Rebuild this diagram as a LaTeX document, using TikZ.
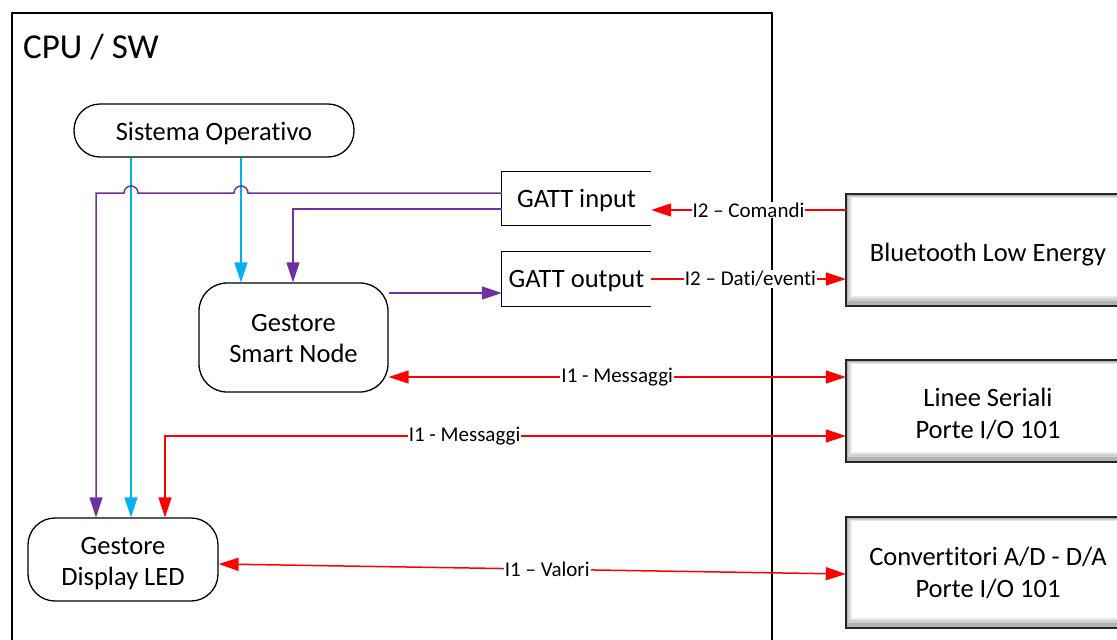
\documentclass[tikz,border=0pt]{standalone}
\usepackage{fontspec}
\setmainfont{Carlito}[Ligatures={NoCommon,NoContextual},Contextuals=NoAlternate]
\usetikzlibrary{arrows.meta,backgrounds,calc}
\definecolor{vpurple}{HTML}{7030A0}
\definecolor{vcyan}{HTML}{00B0F0}
\definecolor{vred}{HTML}{FF0000}
\begin{document}
\begin{tikzpicture}[x=1pt,y=-1pt,
  every node/.style={font=\fontsize{26.5}{31.5}\selectfont, align=center, inner sep=0pt},
  rbox/.style={draw, line width=1.3pt, rounded corners=#1},
  openbox/.style={line width=1.3pt},
  tip/.style={-{Triangle[length=20pt,width=13pt]}},
  tips/.style={{Triangle[length=20pt,width=13pt]}-{Triangle[length=20pt,width=13pt]}},
  purp/.style={vpurple, line width=1.5pt, tip},
  cyn/.style={vcyan, line width=1.5pt, tip},
  redl/.style={vred, line width=1.5pt},
  lbl/.style={font=\fontsize{21}{24}\selectfont, fill=white, text=black, inner sep=1pt}]
\useasboundingbox (0,0) rectangle (1117,640);

% container
\draw[line width=1.6pt] (12,660) -- (12,13) -- (772,13) -- (772,660);
\node[anchor=base west, font=\fontsize{35}{38}\selectfont] (title) at (23,58) {CPU / SW};

% nodes
\node[rbox=26pt, minimum width=280pt, minimum height=53pt,
  label={[yshift=-3pt]center:Sistema Operativo}] (sys) at (214,130.5) {};
\node[minimum width=149pt, minimum height=53pt,
  label={[yshift=-2pt]center:GATT input}] (gin) at (576.5,198.5) {};
\draw[openbox] (gin.north east) -- (gin.north west) -- (gin.south west) -- (gin.south east);
\node[minimum width=149pt, minimum height=54pt,
  label={[yshift=-2pt]center:GATT output}] (gout) at (576.5,279) {};
\draw[openbox] (gout.north east) -- (gout.north west) -- (gout.south west) -- (gout.south east);
\node[rbox=28pt, minimum width=189pt, minimum height=109pt,
  label={[yshift=-1pt]center:{Gestore\\Smart Node}}] (sn) at (293.5,337.5) {};
\node[rbox=27pt, minimum width=190pt, minimum height=83pt,
  label={[yshift=-4pt]center:{Gestore\\Display LED}}] (led) at (123,559.5) {};

\node[minimum width=284pt, minimum height=112pt,
  label={[yshift=-5pt]center:Bluetooth Low Energy}] (ble) at (988,250) {};
\node[minimum width=284pt, minimum height=102pt,
  label={[yshift=-3pt]center:{Linee Seriali\\Porte I/O 101}}] (lin) at (988,411) {};
\node[minimum width=284pt, minimum height=111pt,
  label={[yshift=-0.5pt]center:{Convertitori A/D - D/A\\Porte I/O 101}}] (conv) at (988,572.5) {};

\begin{pgfonlayer}{background}
\foreach \n in {ble,lin,conv}{
  \fill[gray!60] (\n.south west) rectangle (\n.north east);
  \fill[gray!38] ([shift={(2pt,5pt)}]\n.south west) rectangle ([shift={(-4pt,-2pt)}]\n.north east);
  \fill[gray!18] ([shift={(4pt,8pt)}]\n.south west) rectangle ([shift={(-6pt,-3pt)}]\n.north east);
  \fill[white] ([shift={(6pt,10pt)}]\n.south west) rectangle ([shift={(-8pt,-4pt)}]\n.north east);
  \draw[gray!30!black, line width=1.5pt] (\n.south west) rectangle (\n.north east);
}
\end{pgfonlayer}

% column coordinates
\coordinate (xP) at (96,0);
\coordinate (xA) at (131,0);
\coordinate (xR) at (165,0);
\coordinate (xB) at (241,0);
\coordinate (xQ) at (293,0);

% cyan
\draw[cyn] (xA |- sys.south) -- (xA |- led.north);
\draw[cyn] (xB |- sys.south) -- (xB |- sn.north);

% purple
\draw[purp] ([yshift=5.5pt]gin.west) -- (248,193) arc[start angle=0,end angle=180,radius=7pt]
  -- (138,193) arc[start angle=0,end angle=180,radius=7pt] -- (96,193) -- (xP |- led.north);
\draw[purp] ([yshift=-10.5pt]gin.west) -| (xQ |- sn.north);
\draw[purp] ([yshift=44.5pt]sn.east) -- ([yshift=-14pt]gout.west);

% red
\draw[redl, tip] ([yshift=40pt]ble.west) -- node[lbl]{I2 – Comandi} ([yshift=-11.5pt]gin.east);
\draw[redl, tip] (gout.east) -- node[lbl, pos=0.51]{I2 – Dati/eventi} ([yshift=-29pt]ble.west);
\draw[redl, tips] ([yshift=-39.5pt]sn.east) -- node[lbl]{I1 - Messaggi} ([yshift=34pt]lin.west);
\draw[redl, tips] ([yshift=-25pt]lin.west) -| node[lbl, pos=0.28]{I1 - Messaggi} (xR |- led.north);
\draw[redl, tips] ([yshift=-4.5pt]led.east) -- node[lbl, pos=0.524]{I1 – Valori} ([yshift=-1.5pt]conv.west);
\end{tikzpicture}
\end{document}
